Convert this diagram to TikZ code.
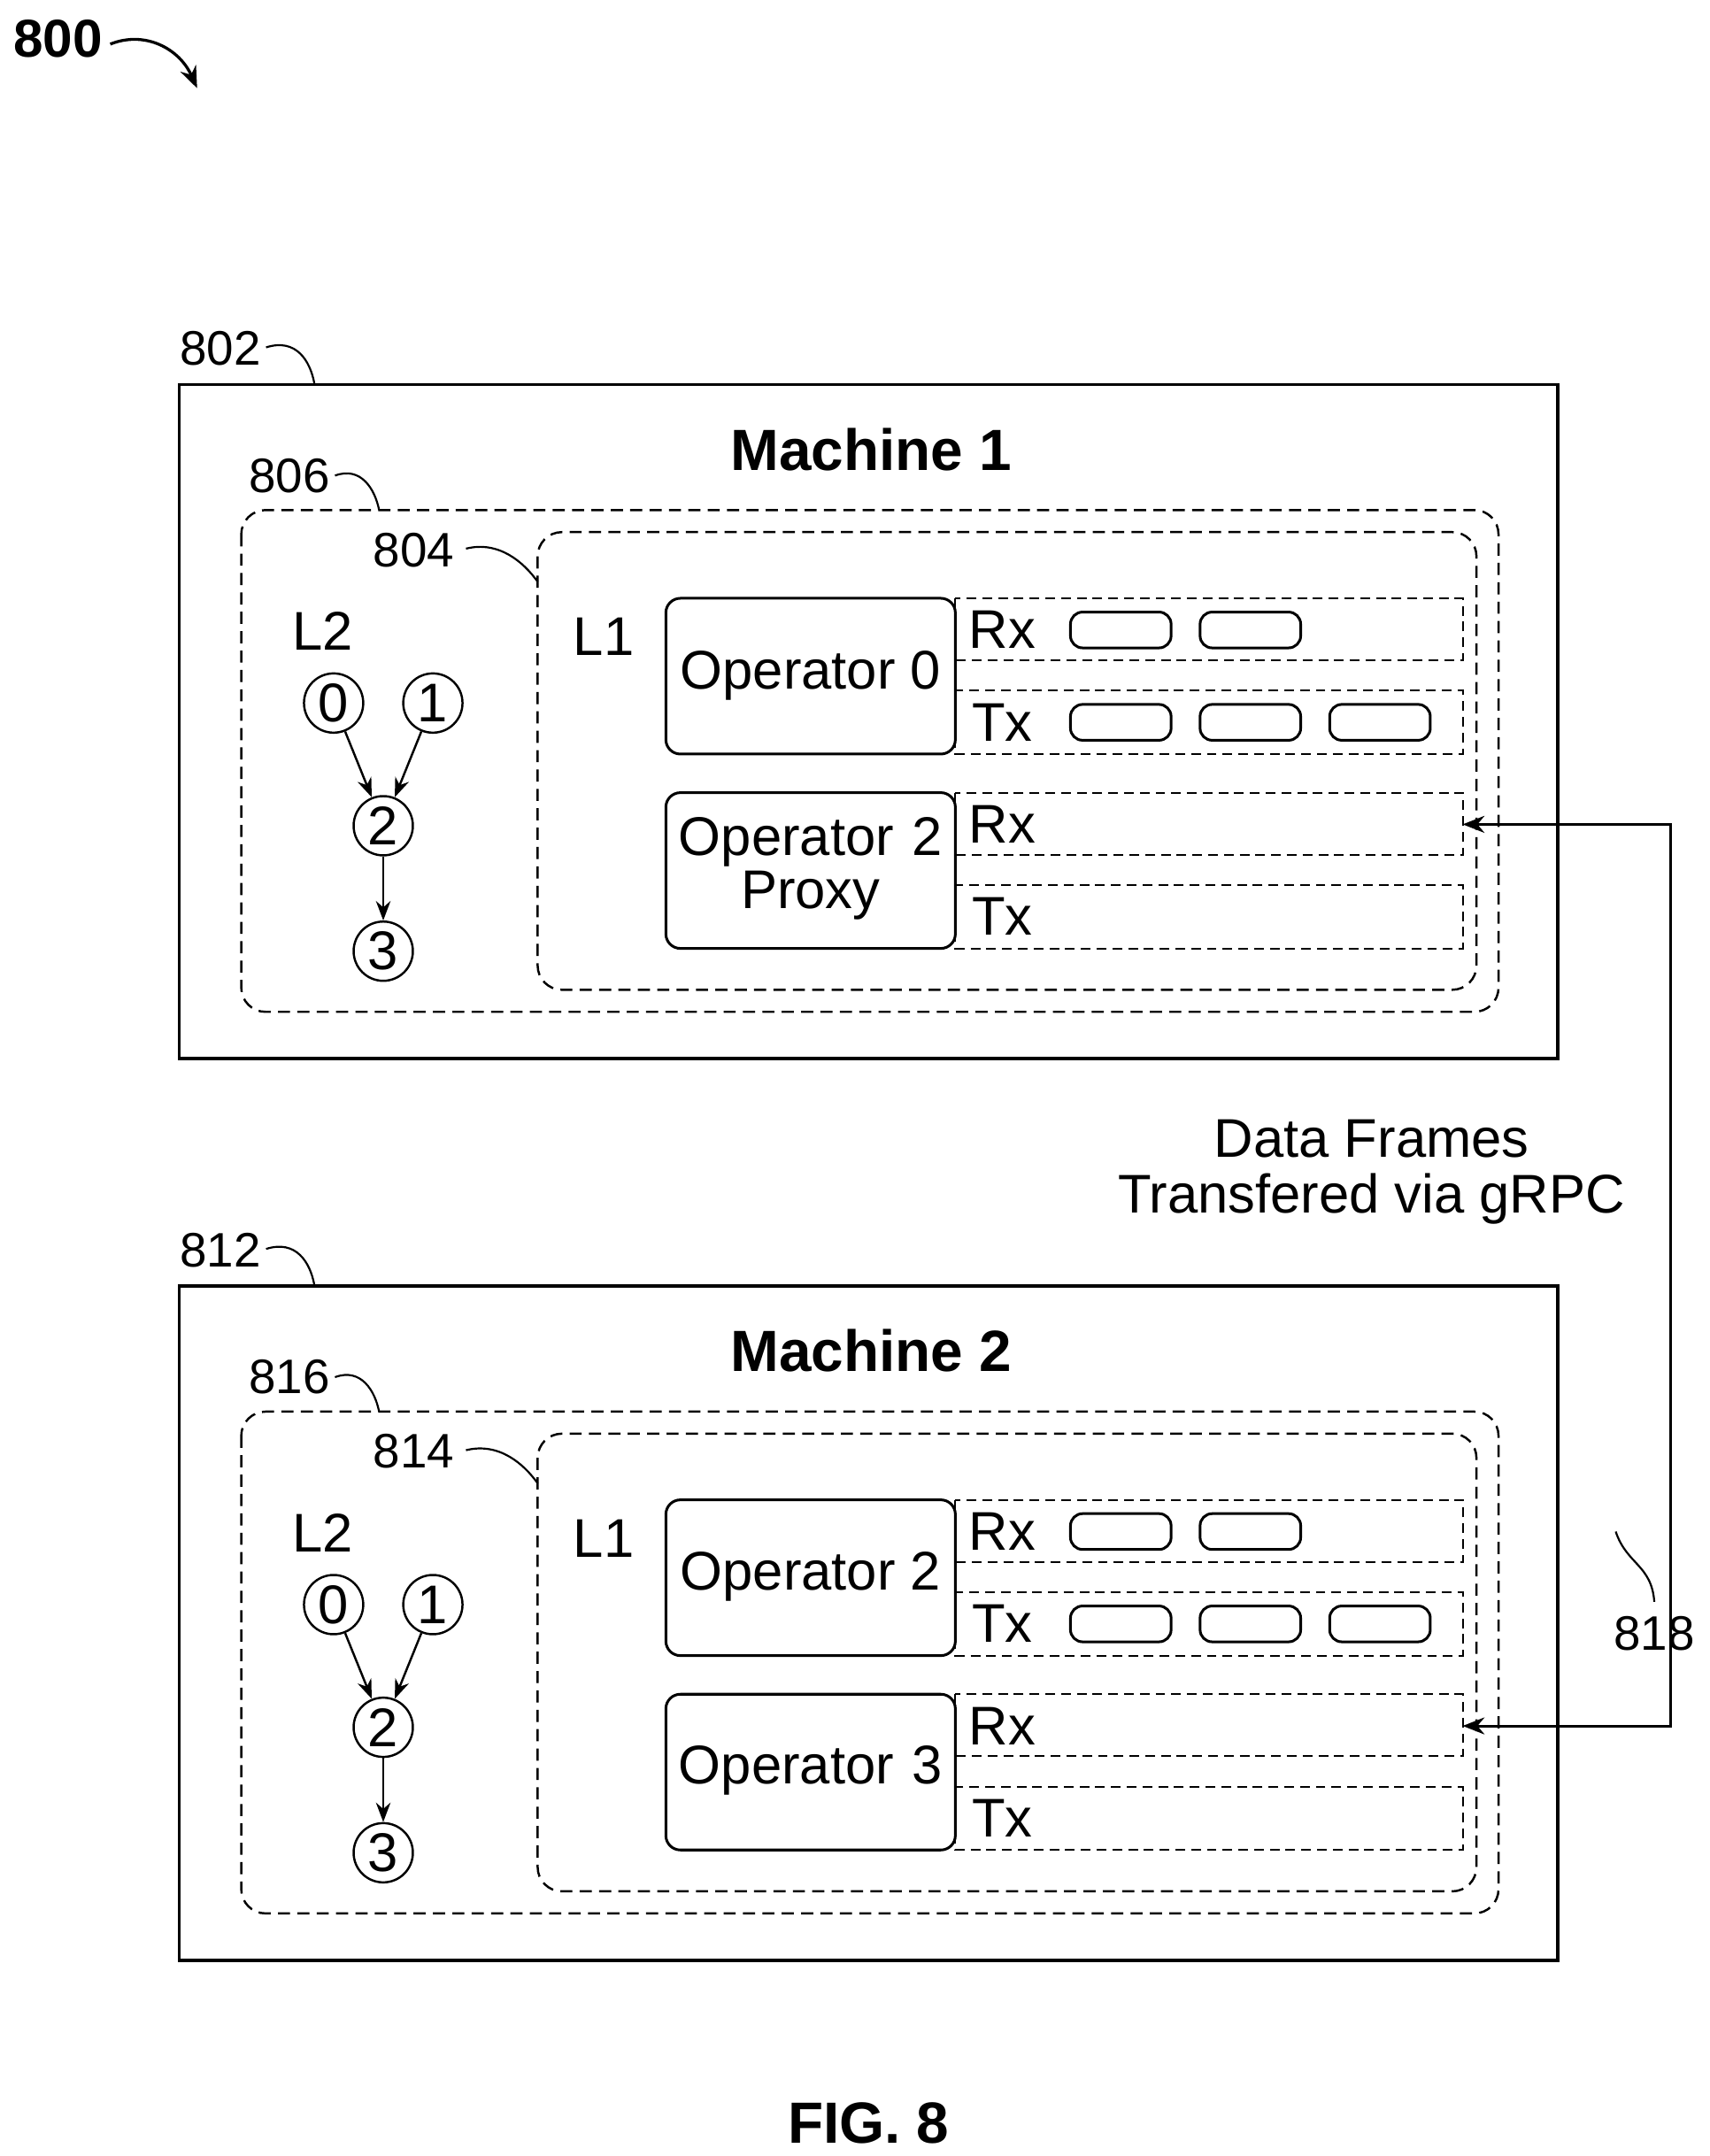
\documentclass[tikz,border=0pt]{standalone}
\usepackage{fontspec}
\setmainfont{Liberation Sans}
\usetikzlibrary{arrows.meta}
\begin{document}
\begin{tikzpicture}[x=0.02cm,y=-0.02cm,
  lbl/.style={font=\fontsize{20}{22}\selectfont},
  txt/.style={font=\fontsize{22.5}{26}\selectfont},
  box/.style={draw,line width=1.3pt},
  dbox/.style={draw,line width=0.9pt,dash pattern=on 5pt off 3pt,rounded corners=10pt},
  row/.style={draw,line width=0.7pt,dash pattern=on 4pt off 2.5pt},
  op/.style={draw,line width=1.1pt,rounded corners=6pt},
  pill/.style={draw,line width=1.1pt,rounded corners=5pt,minimum width=1.46cm,minimum height=0.52cm,inner sep=0pt},
  cir/.style={draw,circle,line width=0.9pt,minimum size=0.86cm,inner sep=0pt,font=\fontsize{22.5}{26}\selectfont},
  arr/.style={-{Stealth[length=8pt,width=6pt]},line width=0.9pt},
  lead/.style={line width=0.8pt}]
\useasboundingbox (0,0) rectangle (1240,1564);
\newcommand\machine[8]{%
\begin{scope}[shift={(0,#1)}]
 \draw[box] (130,279) rectangle (1130,768);
 \node[font=\fontsize{24}{28}\selectfont\bfseries] (mt#8) at (632,326) {#2};
 \node[lbl] (la#8) at (160,253) {#3};
 \draw[lead] (193,252) .. controls (215,245) and (225,262) .. (228,278);
 \draw[dbox] (175,370) rectangle (1087,734);
 \node[lbl] (lb#8) at (210,345) {#4};
 \draw[lead] (243,345) .. controls (262,338) and (272,355) .. (275,370);
 \draw[dbox] (390,386) rectangle (1071,718);
 \node[lbl] (lc#8) at (300,399) {#5};
 \draw[lead] (338,398) .. controls (362,392) and (380,408) .. (390,422);
 \node[txt] (l2#8) at (234,458) {L2};
 \node[cir] (c0#8) at (242,510) {0};
 \node[cir] (c1#8) at (314,510) {1};
 \node[cir] (c2#8) at (278,599) {2};
 \node[cir] (c3#8) at (278,690) {3};
 \draw[arr] (c0#8) -- (c2#8);
 \draw[arr] (c1#8) -- (c2#8);
 \draw[arr] (c2#8) -- (c3#8);
 \node[txt] (l1#8) at (438,462) {L1};
 \draw[row] (693,434) rectangle (1061,479);
 \draw[row] (693,501) rectangle (1061,547);
 \draw[row] (693,575) rectangle (1061,620);
 \draw[row] (693,642) rectangle (1061,688);
 \coordinate (rx#8) at (1061,598);
 \draw[op,fill=white] (483,434) rectangle (693,547);
 \draw[op,fill=white] (483,575) rectangle (693,688);
 \node[txt,align=center] (oa#8) at (588,490) {#6};
 \node[txt,align=center,text width=4cm] (ob#8) at (588,630) {#7};
 \node[txt] at (727,457) {Rx};
 \node[txt] at (727,524) {Tx};
 \node[txt] at (727,598) {Rx};
 \node[txt] at (727,665) {Tx};
 \node[pill] (p1#8) at (813,457) {};
 \node[pill] (p2#8) at (907,457) {};
 \node[pill] (p3#8) at (813,524) {};
 \node[pill] (p4#8) at (907,524) {};
 \node[pill] (p5#8) at (1001,524) {};
\end{scope}}
\node[font=\fontsize{22}{26}\selectfont\bfseries] (n800) at (42,28) {800};
\draw[lead,line width=1.2pt,-{Stealth[length=9pt,width=7pt]}] (80,32) .. controls (105,22) and (130,35) .. (143,64);
\machine{0}{Machine 1}{802}{806}{804}{Operator 0}{\centering Operator 2\\[-4pt]Proxy}{a}
\machine{654}{Machine 2}{812}{816}{814}{Operator 2}{\centering Operator 3}{b}
\draw[line width=1.1pt,{Stealth[length=9pt,width=7pt]}-{Stealth[length=9pt,width=7pt]}] (rxb) -- (1212,1252) -- (1212,598) -- (rxa);
\node[txt,align=center] (df) at (995,850) {Data Frames\\[-3pt]Transfered via gRPC};
\node[lbl] (l818) at (1200,1185) {818};
\draw[lead] (1172,1111) .. controls (1180,1135) and (1198,1135) .. (1200,1162);
\node[font=\fontsize{24}{28}\selectfont\bfseries] (fig) at (630,1540) {FIG. 8};
\end{tikzpicture}
\end{document}
